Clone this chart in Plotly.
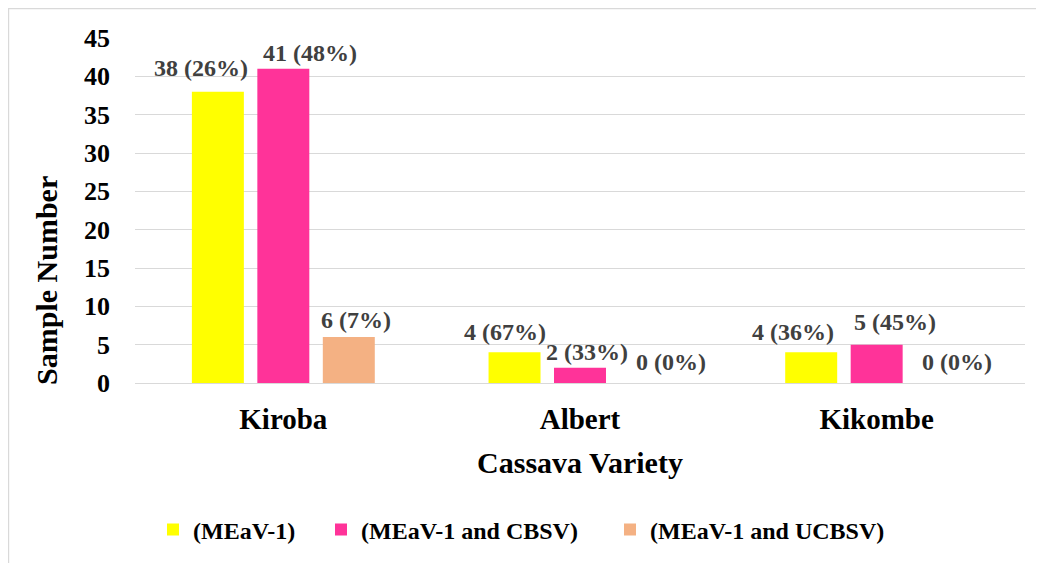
import plotly.graph_objects as go

# ---- data ----
varieties = ["Kiroba", "Albert", "Kikombe"]
series_names = ["(MEaV-1)", "(MEaV-1 and CBSV)", "(MEaV-1 and UCBSV)"]
meav1 = [38, 4, 4]
meav1_cbsv = [41, 2, 5]
meav1_ucbsv = [6, 0, 0]
pct_meav1 = [26, 67, 36]
pct_meav1_cbsv = [48, 33, 45]
pct_meav1_ucbsv = [7, 0, 0]
y_ticks = [0, 5, 10, 15, 20, 25, 30, 35, 40, 45]

# ---- style ----
colors = ["#FFFF00", "#FF3399", "#F4B183"]
FONT = "Liberation Serif"
W, H = 1036, 555
# label offsets (px) relative to category centre, per series / category
label_dx = [[-82, -75, -84], [27, 7, 18], [73, 91, 80]]
label_dy = [[24, 20, 20], [16, 16, 23], [17, 21, 21]]
# legend entry origins (px from figure left)
legend_px = [145, 313, 602]

values = [meav1, meav1_cbsv, meav1_ucbsv]
pcts = [pct_meav1, pct_meav1_cbsv, pct_meav1_ucbsv]
legend_ids = ["legend", "legend2", "legend3"]

fig = go.Figure()
for name, vals, col, lg in zip(series_names, values, colors, legend_ids):
    fig.add_trace(go.Bar(x=varieties, y=vals, name=f"<b>{name}</b>", marker_color=col,
                         marker_line_width=0, legend=lg))

for s in range(3):
    for c in range(3):
        fig.add_annotation(
            x=varieties[c], y=values[s][c], xref="x", yref="y",
            text=f"<b>{values[s][c]} ({pcts[s][c]}%)</b>", showarrow=False,
            xanchor="center", yanchor="middle",
            xshift=label_dx[s][c], yshift=label_dy[s][c],
            font=dict(family=FONT, size=24, color="#404040"))

# y axis title (placed lower than the plot centre, as in the original)
fig.add_annotation(text="<b>Sample Number</b>", textangle=-90, showarrow=False,
                   xref="paper", yref="paper", x=-0.0989, y=0.2986,
                   xanchor="center", yanchor="middle",
                   font=dict(family=FONT, size=30, color="black"))

# chart frame (light grey border at top/left edge of the chart)
fig.add_shape(type="rect", xref="paper", yref="paper",
              x0=-0.1421, x1=1.05, y0=-0.6, y1=1.0855,
              line=dict(color="#d9d9d9", width=1.3), fillcolor="rgba(0,0,0,0)",
              layer="below")

leg_common = dict(orientation="h", xref="container", yref="container",
                  xanchor="left", y=1 - 522 / H, yanchor="middle",
                  font=dict(family=FONT, size=24, color="black"),
                  bgcolor="rgba(0,0,0,0)", itemwidth=30)

fig.update_layout(
    width=W, height=H,
    margin=dict(l=127, r=19, t=30, b=180, autoexpand=False),
    paper_bgcolor="white", plot_bgcolor="white",
    barmode="group", bargap=0.338, bargroupgap=0.206,
    font=dict(family=FONT, color="black"),
    showlegend=True,
    legend=dict(x=legend_px[0] / W, **leg_common),
    legend2=dict(x=legend_px[1] / W, **leg_common),
    legend3=dict(x=legend_px[2] / W, **leg_common),
    xaxis=dict(
        showgrid=False, showline=False, ticks="",
        tickfont=dict(family=FONT, size=29, color="black"),
        tickvals=varieties, ticktext=[f"<b>{v}</b>" for v in varieties],
        title=dict(text="<b>Cassava Variety</b>", standoff=17,
                   font=dict(family=FONT, size=30, color="black")),
        ticklabelstandoff=16,
    ),
    yaxis=dict(
        range=[0, 45], tickvals=y_ticks, ticktext=[f"<b>{t}</b>" for t in y_ticks],
        showgrid=True, gridcolor="#d9d9d9", gridwidth=1,
        zeroline=True, zerolinecolor="#d9d9d9", zerolinewidth=1,
        showline=False, ticks="",
        tickfont=dict(family=FONT, size=26, color="black"),
        ticklabelstandoff=24,
    ),
)

fig.write_html("out.html")
